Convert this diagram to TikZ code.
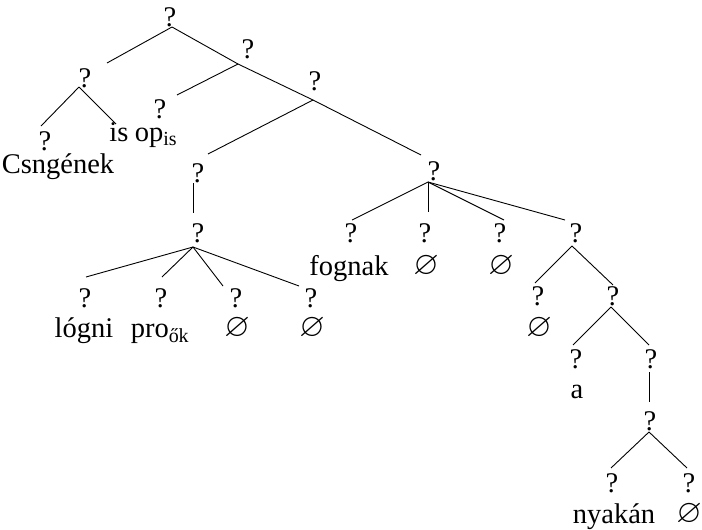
\documentclass[tikz,border=0pt]{standalone}
\usepackage{amssymb}
\usepackage{graphicx}
\usepackage{fontspec}
\setmainfont{Liberation Serif}
\newcommand{\nullsym}{\scalebox{1.15}{$\varnothing$}}
\begin{document}
\begin{tikzpicture}[x=1pt,y=-1pt,
  lbl/.style={anchor=base,inner sep=0pt,font=\fontsize{28.5}{32}\selectfont},
  edge/.style={line width=0.9pt}]
\useasboundingbox (0,0) rectangle (702,530);
% labels
\node[lbl] (q0) at (170,26) {?};
\node[lbl] (q1) at (85,87) {?};
\node[lbl] (q2) at (248,58) {?};
\node[lbl] (q3) at (45,150) {?};
\node[lbl] (w1) at (58,173) {Csngének};
\node[lbl] (w2) at (119,141) {is};
\node[lbl] (q4) at (160,118) {?};
\node[lbl] (w3) at (156,141) {op\textsubscript{is}};
\node[lbl] (q5) at (315,90) {?};
\node[lbl] (q6) at (198,182) {?};
\node[lbl] (q7) at (198,242) {?};
\node[lbl] (q8) at (85,307) {?};
\node[lbl] (q9) at (161,307) {?};
\node[lbl] (q10) at (236,307) {?};
\node[lbl] (q11) at (311,307) {?};
\node[lbl] (w4) at (84,337) {lógni};
\node[lbl] (w5) at (160,337) {pro\textsubscript{ők}};
\node[lbl] (w6) at (237,336) {\nullsym};
\node[lbl] (w7) at (312,336) {\nullsym};
\node[lbl] (q12) at (434,180) {?};
\node[lbl] (q13) at (351,242) {?};
\node[lbl] (q14) at (425,242) {?};
\node[lbl] (q15) at (500,242) {?};
\node[lbl] (q16) at (576,242) {?};
\node[lbl] (w8) at (349,275) {fognak};
\node[lbl] (w9) at (426,274) {\nullsym};
\node[lbl] (w10) at (501,274) {\nullsym};
\node[lbl] (q17) at (538,305) {?};
\node[lbl] (w11) at (539,336) {\nullsym};
\node[lbl] (q18) at (613,305) {?};
\node[lbl] (q19) at (576,368) {?};
\node[lbl] (w12) at (577,398) {a};
\node[lbl] (q20) at (651,368) {?};
\node[lbl] (q21) at (650,430) {?};
\node[lbl] (q22) at (612,492) {?};
\node[lbl] (q23) at (689,492) {?};
\node[lbl] (w13) at (614,523) {nyakán};
\node[lbl] (w14) at (689,522) {\nullsym};
% apex and end coordinates
\coordinate (a0) at (172,27);
\coordinate (e0l) at (107,63);
\coordinate (a1) at (79,87);
\coordinate (e1l) at (41,126);
\coordinate (e1r) at (116,124);
\coordinate (a2) at (238,64);
\coordinate (e2l) at (177,95);
\coordinate (a5) at (313,100);
\coordinate (e5l) at (208,154);
\coordinate (e5r) at (421,155);
\coordinate (a6) at (193,183);
\coordinate (e6) at (193,213);
\coordinate (a7) at (193,247);
\coordinate (e7a) at (86,277);
\coordinate (e7b) at (162,277);
\coordinate (e7c) at (223,286);
\coordinate (e7d) at (299,286);
\coordinate (a12) at (428,182);
\coordinate (e12a) at (352,220);
\coordinate (e12b) at (428,212);
\coordinate (e12c) at (504,220);
\coordinate (e12d) at (565,220);
\coordinate (a16) at (572,246);
\coordinate (e16l) at (535,283);
\coordinate (e16r) at (613,285);
\coordinate (a18) at (611,307);
\coordinate (e18l) at (573,345);
\coordinate (e18r) at (649,345);
\coordinate (a20) at (649,372);
\coordinate (e20) at (649,402);
\coordinate (a21) at (649,432);
\coordinate (e21l) at (611,468);
\coordinate (e21r) at (687,468);
% edges
\draw[edge] (a0) -- (e0l);
\draw[edge] (a0) -- (a2);
\draw[edge] (a1) -- (e1l);
\draw[edge] (a1) -- (e1r);
\draw[edge] (a2) -- (e2l);
\draw[edge] (a2) -- (a5);
\draw[edge] (a5) -- (e5l);
\draw[edge] (a5) -- (e5r);
\draw[edge] (a6) -- (e6);
\draw[edge] (a7) -- (e7a);
\draw[edge] (a7) -- (e7b);
\draw[edge] (a7) -- (e7c);
\draw[edge] (a7) -- (e7d);
\draw[edge] (a12) -- (e12a);
\draw[edge] (a12) -- (e12b);
\draw[edge] (a12) -- (e12c);
\draw[edge] (a12) -- (e12d);
\draw[edge] (a16) -- (e16l);
\draw[edge] (a16) -- (e16r);
\draw[edge] (a18) -- (e18l);
\draw[edge] (a18) -- (e18r);
\draw[edge] (a20) -- (e20);
\draw[edge] (a21) -- (e21l);
\draw[edge] (a21) -- (e21r);
\end{tikzpicture}
\end{document}
